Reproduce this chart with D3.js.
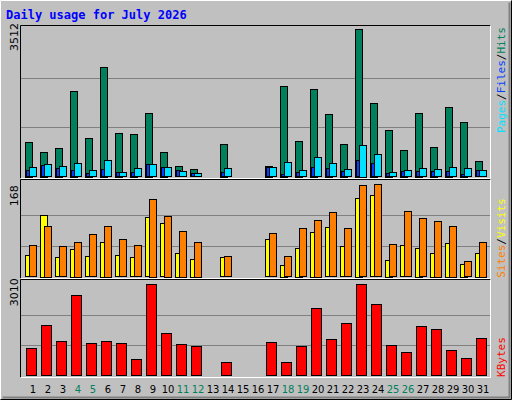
<!DOCTYPE html>
<html><head><meta charset="utf-8">
<script src="https://cdn.jsdelivr.net/npm/d3@7"></script>
<style>body{margin:0;background:#fff}svg{display:block}</style>
</head><body><svg width="512" height="400"></svg>
<script>
var days = d3.range(1, 32);
var weekends = [4, 5, 11, 12, 18, 19, 25, 26];
var hits = [822,583,679,2040,917,2614,1037,1013,1515,583,249,177,0,774,0,0,255,2160,846,2088,1491,774,3512,1754,1109,631,1515,703,1659,1300,368];
var files = [225,296,249,320,153,392,105,201,296,225,129,81,0,201,0,0,225,344,153,463,320,177,750,535,105,153,201,177,225,201,153];
var pages = [153,273,201,153,81,177,105,105,296,225,153,81,0,105,0,0,225,57,105,225,201,129,392,320,81,129,129,129,129,57,153];
var visits = [57,93,55,64,77,93,68,57,141,110,84,63,0,37,0,0,79,37,88,104,117,88,166,168,59,119,106,101,92,28,63];
var sites = [39,112,35,50,37,63,39,35,108,97,44,33,0,35,0,0,68,21,53,81,90,55,143,148,30,57,52,43,61,24,44];
var kbytes = [885,1649,1118,2645,1051,1118,1051,520,3010,1383,1018,952,0,420,0,0,1084,420,952,2213,1184,1715,3010,2346,985,752,1616,1516,819,553,1217];

var svg = d3.select('svg');
var mono = 'DejaVu Sans Mono, monospace';

// background and bevel
svg.append('rect').attr('width', 512).attr('height', 400).attr('fill', '#c0c0c0');
svg.append('path').attr('d', 'M0.5,399.5V0.5H511.5').attr('stroke', '#fff').attr('fill', 'none');
svg.append('path').attr('d', 'M0.5,399.5H511.5V0.5').attr('stroke', '#000').attr('fill', 'none');
svg.append('path').attr('d', 'M2.5,397.5H509.5V2.5').attr('stroke', '#808080').attr('fill', 'none').attr('stroke-width', 2);

svg.append('text').attr('x', 6).attr('y', 19).text('Daily usage for July 2026')
  .attr('font-family', mono).attr('font-weight', 'bold').attr('font-size', 12).attr('fill', '#0000ff');

var x = d3.scaleLinear().domain([1, 31]).range([25, 475]);

var panels = [
  {top: 25, bottom: 178, y0: 176.7, y1: 29, max: 3512},
  {top: 179, bottom: 278, y0: 276.7, y1: 184.3, max: 168},
  {top: 279, bottom: 377, y0: 375, y1: 284.3, max: 3010}
];
panels.forEach(function(p) {
  p.y = d3.scaleLinear().domain([0, p.max]).range([p.y0, p.y1]);
  svg.append('rect').attr('x', 20).attr('y', p.top).attr('width', 471).attr('height', p.bottom - p.top).attr('fill', '#c0c0c0');
  [1/3, 2/3].forEach(function(f) {
    var gy = Math.round(p.y(p.max * f)) + 0.5;
    svg.append('line').attr('x1', 21).attr('x2', 490).attr('y1', gy).attr('y2', gy).attr('stroke', '#808080');
  });
  svg.append('path').attr('d', 'M20.5,' + (p.bottom + 0.5) + 'V' + (p.top + 0.5) + 'H490.5').attr('stroke', '#000').attr('fill', 'none');
  svg.append('path').attr('d', 'M20.5,' + (p.bottom + 0.5) + 'H490.5V' + (p.top + 0.5)).attr('stroke', '#fff').attr('fill', 'none');
  svg.append('text').attr('transform', 'translate(18,' + (p.y1 + 22) + ') rotate(-90)').text(p.max)
    .attr('font-family', 'DejaVu Sans, sans-serif').attr('font-size', 11).attr('fill', '#000');
});

function bars(vals, p, dx, w, color) {
  svg.append('g').selectAll('rect').data(days.filter(function(d) { return vals[d - 1] > 0; }))
    .enter().append('rect')
    .attr('x', function(d) { return x(d) + dx + 0.5; })
    .attr('y', function(d) { return Math.round(p.y(vals[d - 1])) + 0.5; })
    .attr('width', w)
    .attr('height', function(d) { return Math.round(p.y0 - p.y(vals[d - 1])); })
    .attr('fill', color).attr('stroke', '#000');
}
bars(hits, panels[0], 0, 7, '#00805c');
bars(pages, panels[0], 1, 4, '#0040ff');
bars(files, panels[0], 4, 7, '#00e0ff');
bars(sites, panels[1], 0, 7, '#ffff00');
bars(visits, panels[1], 4, 7, '#ff8000');
bars(kbytes, panels[2], 1, 10, '#ff0000');

// legends on right
function legend(cy, parts) {
  var t = svg.append('text').attr('transform', 'translate(505,' + cy + ') rotate(-90)')
    .attr('text-anchor', 'middle').attr('font-family', mono).attr('font-size', 11);
  parts.forEach(function(q) { t.append('tspan').text(q[0]).attr('fill', q[1]); });
}
legend(80, [['Pages', '#00e0ff'], ['/', '#000'], ['Files', '#0040ff'], ['/', '#000'], ['Hits', '#00805c']]);
legend(238, [['Sites', '#ff8000'], ['/', '#000'], ['Visits', '#ffff00']]);
legend(357, [['KBytes', '#ff0000']]);

svg.append('g').selectAll('text').data(days).enter().append('text')
  .attr('x', function(d) { return x(d) + 8; }).attr('y', 393)
  .attr('text-anchor', 'middle').attr('font-family', 'DejaVu Sans, sans-serif').attr('font-size', 10)
  .attr('fill', function(d) { return weekends.indexOf(d) >= 0 ? '#00805c' : '#000'; })
  .text(function(d) { return d; });
</script></body></html>
